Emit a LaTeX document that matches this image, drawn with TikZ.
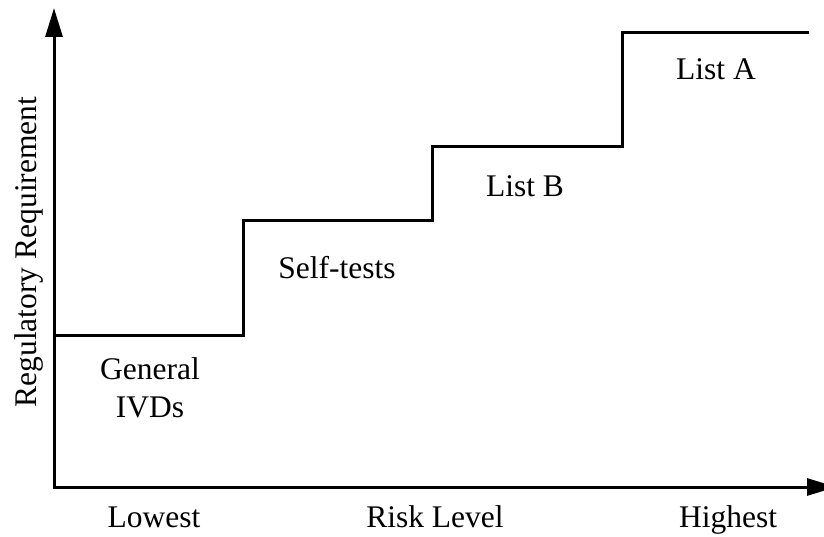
\documentclass[tikz,border=0pt]{standalone}
\usepackage{fontspec}
\setmainfont{Liberation Serif}
\usetikzlibrary{arrows.meta}
\begin{document}
\begin{tikzpicture}[x=1pt,y=-1pt,
  axis/.style={line width=3pt,-{Triangle[length=29pt,width=17pt]}},
  stair/.style={line width=3pt,line join=miter},
  lbl/.style={font=\fontsize{31.5}{38}\selectfont,align=center,inner sep=0pt,anchor=base}]
\useasboundingbox (0,0) rectangle (824,537);
\clip (0,0) rectangle (824,537);
% axes
\coordinate (O) at (54,487);
\coordinate (ytop) at (54,8);
\coordinate (xend) at (836,487);
\draw[axis] ([yshift=1.5pt]O) -- (ytop);
\draw[axis] ([xshift=-1.5pt]O) -- (xend);
% staircase of requirement levels
\coordinate (s0) at (54,335);
\coordinate (s1) at (243,335);
\coordinate (s2) at (243,221);
\coordinate (s3) at (432,221);
\coordinate (s4) at (432,147);
\coordinate (s5) at (622,147);
\coordinate (s6) at (622,33);
\coordinate (s7) at (809,33);
\draw[stair] (s0) -- (s1) -- (s2) -- (s3) -- (s4) -- (s5) -- (s6) -- (s7);
% level labels (base anchor sits on the last line)
\node[lbl] (gen) at (150,417) {General\\IVDs};
\node[lbl] (self) at (337,279) {Self-tests};
\node[lbl] (lb) at (525,197) {List B};
\node[lbl] (la) at (716,80) {List A};
% axis labels
\node[lbl] (low) at (154,527) {Lowest};
\node[lbl] (risk) at (435,527) {Risk Level};
\node[lbl] (high) at (728,527) {Highest};
\node[lbl,rotate=90] (reg) at (36,252) {Regulatory Requirement};
\end{tikzpicture}
\end{document}
